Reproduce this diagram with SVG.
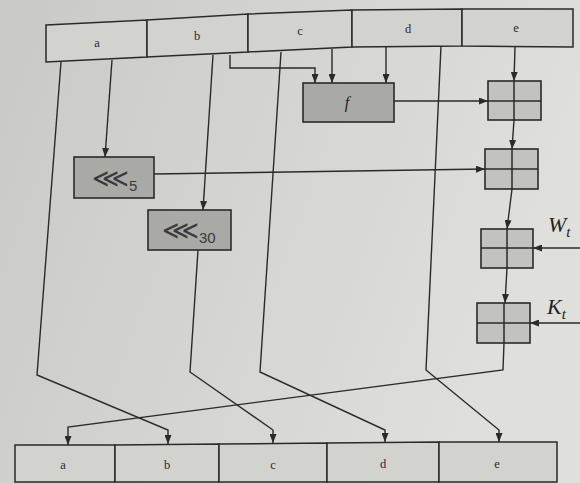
<svg xmlns="http://www.w3.org/2000/svg" width="580" height="483" viewBox="0 0 580 483">
  <style>
    .cell { fill: #d2d2ce; stroke: #2a2a2a; stroke-width: 1.5; stroke-linejoin: miter; }
    .op { fill: #a9a9a5; stroke: #2a2a2a; stroke-width: 1.6; }
    .add { fill: #c2c2be; stroke: #2a2a2a; stroke-width: 1.6; }
    .cross { stroke: #2a2a2a; stroke-width: 1.5; fill: none; }
    .wire { fill: none; stroke: #2a2a2a; stroke-width: 1.4; stroke-linejoin: miter; }
    .lbl { font-family: "Liberation Serif", "DejaVu Serif", serif; font-size: 12.5px; fill: #2a2a2a; text-anchor: middle; }
    .rot { font-family: "DejaVu Sans", "Liberation Sans", sans-serif; font-size: 26px; fill: #3a3a3a; }
    .sub { font-family: "Liberation Sans", "DejaVu Sans", sans-serif; font-size: 15px; fill: #3a3a3a; }
    .big { font-family: "Liberation Serif", "DejaVu Serif", serif; font-style: italic; fill: #222; }
  </style>
  <defs>
    <linearGradient id="paper" x1="0" y1="0" x2="1" y2="0.3">
      <stop offset="0" stop-color="#c9c9c5"/>
      <stop offset="1" stop-color="#dfdfdb"/>
    </linearGradient>
    <marker id="ah" viewBox="0 0 9 7" refX="9" refY="3.5" markerWidth="9" markerHeight="7" orient="auto" markerUnits="userSpaceOnUse">
      <path d="M0,0 L9,3.5 L0,7 z" fill="#2a2a2a"/>
    </marker>
  </defs>

  <rect x="0" y="0" width="580" height="483" fill="url(#paper)"/>

  <!-- input register -->
  <g id="reg-in">
    <g id="in-a"><polygon class="cell" points="46,25 147,20 147,57 46,62"/><text class="lbl" x="97" y="47">a</text></g>
    <g id="in-b"><polygon class="cell" points="147,20 248,14 248,52 147,57"/><text class="lbl" x="197" y="40">b</text></g>
    <g id="in-c"><polygon class="cell" points="248,14 352,10 352,47 248,52"/><text class="lbl" x="300" y="35">c</text></g>
    <g id="in-d"><polygon class="cell" points="352,10 462,9 462,46 352,47"/><text class="lbl" x="408" y="33">d</text></g>
    <g id="in-e"><polygon class="cell" points="462,9 573,9 573,47 462,46"/><text class="lbl" x="516" y="32">e</text></g>
  </g>

  <!-- output register -->
  <g id="reg-out">
    <g id="out-a"><polygon class="cell" points="15,445 115,445 115,482 15,482"/><text class="lbl" x="63" y="469">a</text></g>
    <g id="out-b"><polygon class="cell" points="115,445 219,444 219,482 115,482"/><text class="lbl" x="167" y="469">b</text></g>
    <g id="out-c"><polygon class="cell" points="219,444 327,443 327,482 219,482"/><text class="lbl" x="273" y="469">c</text></g>
    <g id="out-d"><polygon class="cell" points="327,443 439,442 439,482 327,482"/><text class="lbl" x="383" y="468">d</text></g>
    <g id="out-e"><polygon class="cell" points="439,442 557,442 557,482 439,482"/><text class="lbl" x="497" y="468">e</text></g>
  </g>

  <!-- function / rotation boxes -->
  <g id="f">
    <rect class="op" x="303" y="83" width="91" height="39"/>
    <text class="big" x="347" y="108" font-size="16" text-anchor="middle">f</text>
  </g>
  <g id="rot5">
    <rect class="op" x="74" y="157" width="80" height="41"/>
    <text x="92" y="187"><tspan class="rot">⋘</tspan><tspan class="sub" dy="4">5</tspan></text>
  </g>
  <g id="rot30">
    <rect class="op" x="148" y="210" width="83" height="40"/>
    <text x="162" y="239"><tspan class="rot">⋘</tspan><tspan class="sub" dy="4">30</tspan></text>
  </g>

  <!-- adders -->
  <g id="add1">
    <rect class="add" x="488" y="81" width="53" height="39"/>
    <path class="cross" d="M514,81 V120 M488,101 H541"/>
  </g>
  <g id="add2">
    <rect class="add" x="485" y="149" width="53" height="40"/>
    <path class="cross" d="M512,149 V189 M485,169 H538"/>
  </g>
  <g id="add3">
    <rect class="add" x="481" y="229" width="52" height="39"/>
    <path class="cross" d="M507,229 V268 M481,248 H533"/>
  </g>
  <g id="add4">
    <rect class="add" x="477" y="303" width="53" height="40"/>
    <path class="cross" d="M504,303 V343 M477,323 H530"/>
  </g>

  <!-- input labels -->
  <g id="wt"><text class="big" x="548" y="232" font-size="22">W<tspan font-size="15" dy="5">t</tspan></text></g>
  <g id="kt"><text class="big" x="547" y="314" font-size="22">K<tspan font-size="15" dy="5">t</tspan></text></g>

  <!-- connectors -->
  <g id="connectors">
    <polyline class="wire" points="61,62 37,375 168,430 168,444" marker-end="url(#ah)"/>
    <polyline class="wire" points="112,60 105,157" marker-end="url(#ah)"/>
    <polyline class="wire" points="154,174 485,169" marker-end="url(#ah)"/>
    <polyline class="wire" points="213,55 203,210" marker-end="url(#ah)"/>
    <polyline class="wire" points="198,250 190,372 273,430 273,443" marker-end="url(#ah)"/>
    <polyline class="wire" points="230,55 230,68 315,68 315,83" marker-end="url(#ah)"/>
    <polyline class="wire" points="281,52 260,372 385,430 385,442" marker-end="url(#ah)"/>
    <polyline class="wire" points="332,49 332,83" marker-end="url(#ah)"/>
    <polyline class="wire" points="386,47 386,83" marker-end="url(#ah)"/>
    <polyline class="wire" points="441,46 426,370 499,430 499,442" marker-end="url(#ah)"/>
    <polyline class="wire" points="515,47 514,81" marker-end="url(#ah)"/>
    <polyline class="wire" points="394,101 488,101" marker-end="url(#ah)"/>
    <polyline class="wire" points="514,120 512,149" marker-end="url(#ah)"/>
    <polyline class="wire" points="512,189 507,229" marker-end="url(#ah)"/>
    <polyline class="wire" points="507,268 505,303" marker-end="url(#ah)"/>
    <polyline class="wire" points="504,343 503,370 68,427 68,445" marker-end="url(#ah)"/>
    <polyline class="wire" points="580,248 533,248" marker-end="url(#ah)"/>
    <polyline class="wire" points="580,323 530,323" marker-end="url(#ah)"/>
  </g>
</svg>
